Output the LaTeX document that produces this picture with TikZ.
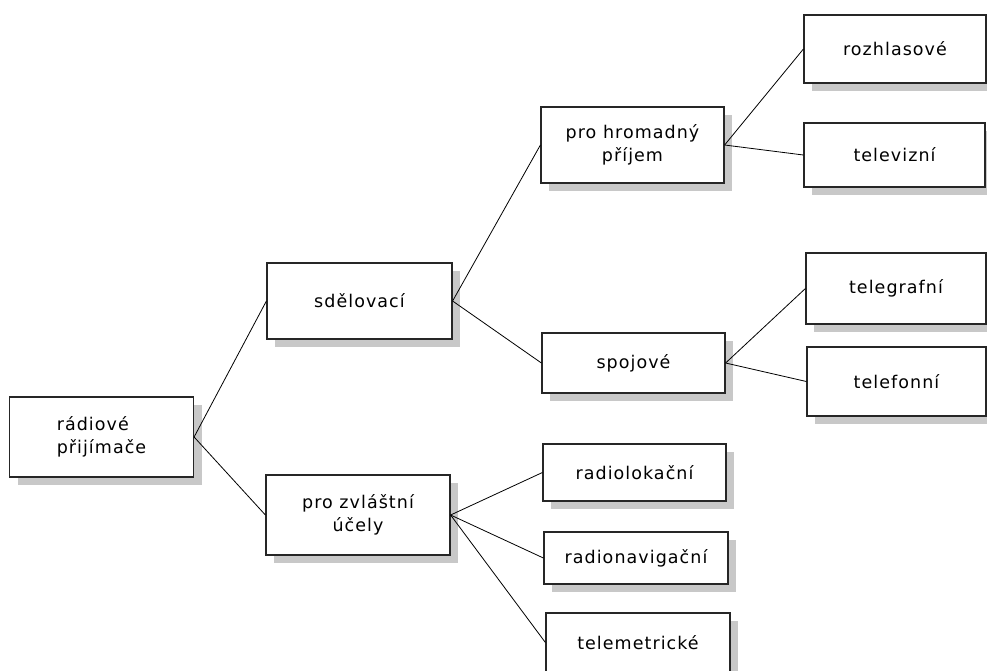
\documentclass[tikz,border=0pt]{standalone}
\usepackage{fontspec}
\setmainfont{DejaVu Sans}[LetterSpace=6]
\usetikzlibrary{shadows}
\definecolor{shadowgray}{RGB}{200,200,200}
\tikzset{
  box/.style={draw=black!85, line width=1.2pt, fill=white, inner sep=2pt,
    font=\fontsize{17.5}{23}\selectfont, align=center,
    general shadow={fill=shadowgray, shadow xshift=8pt, shadow yshift=-8pt}},
  link/.style={draw=black, line width=0.8pt}
}
\newcommand{\boxnode}[7]{% name, cx, cy, width, height, alignment, text
  \node[box, align=#6, minimum width=#4pt, minimum height=#5pt] (#1) at (#2,#3) {#7};}
\begin{document}
\begin{tikzpicture}[x=1pt, y=-1pt]
  \useasboundingbox (0,0) rectangle (987,670);
  % level 0
  \boxnode{radio}{101.5}{437}{184}{80}{left}{rádiové\\přijímače}
  % level 1
  \boxnode{sdel}{359.5}{301}{185}{76}{center}{sdělovací}
  \boxnode{zvl}{358}{515}{184}{80}{center}{pro zvláštní\\účely}
  % level 2
  \boxnode{hrom}{632.5}{145}{183}{76}{center}{pro hromadný\\příjem}
  \boxnode{spoj}{633.5}{363}{183}{60}{center}{spojové}
  \boxnode{rlok}{634.5}{472.5}{183}{57}{center}{radiolokační}
  \boxnode{rnav}{636}{558}{184}{52}{center}{radionavigační}
  \boxnode{telem}{638}{642.5}{184}{59}{center}{telemetrické}
  % level 3
  \boxnode{rozhl}{895}{49}{182}{68}{center}{rozhlasové}
  \boxnode{telev}{894.5}{155}{181}{64}{center}{televizní}
  \boxnode{telegr}{896}{288.5}{180}{71}{center}{telegrafní}
  \boxnode{telef}{896.5}{381.5}{179}{69}{center}{telefonní}
  % connectors
  \draw[link] (radio.east) -- (sdel.west);
  \draw[link] (radio.east) -- (zvl.west);
  \draw[link] (sdel.east) -- (hrom.west);
  \draw[link] (sdel.east) -- (spoj.west);
  \draw[link] (hrom.east) -- (rozhl.west);
  \draw[link] (hrom.east) -- (telev.west);
  \draw[link] (spoj.east) -- (telegr.west);
  \draw[link] (spoj.east) -- (telef.west);
  \draw[link] (zvl.east) -- (rlok.west);
  \draw[link] (zvl.east) -- (rnav.west);
  \draw[link] (zvl.east) -- (telem.west);
\end{tikzpicture}
\end{document}
